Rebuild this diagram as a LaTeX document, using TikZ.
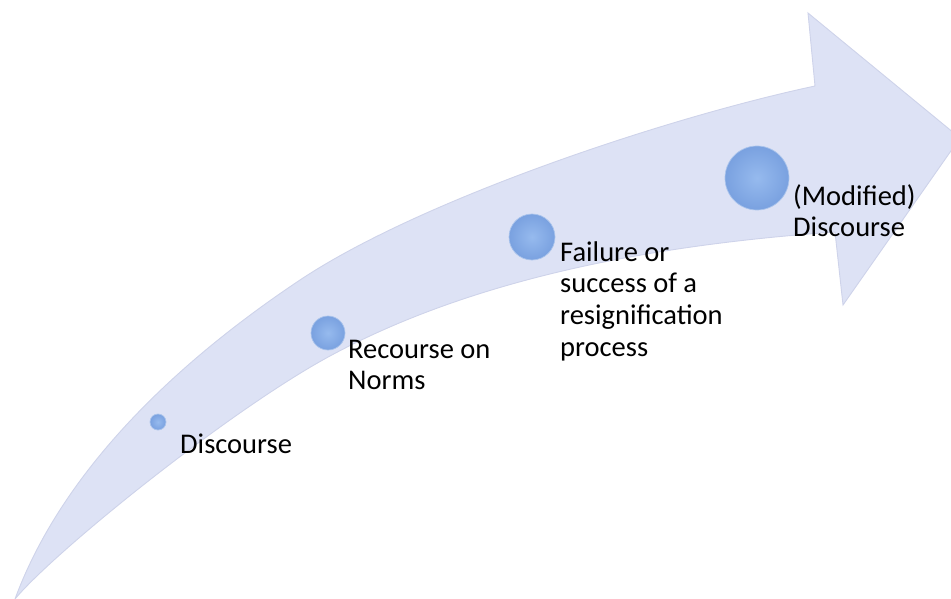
\documentclass[tikz,border=0pt]{standalone}
\usepackage{fontspec}
\setmainfont{Carlito}
\definecolor{arrowfill}{RGB}{221,226,245}
\definecolor{arrowedge}{RGB}{206,211,234}
\definecolor{ballin}{RGB}{150,186,238}
\definecolor{ballmid}{RGB}{118,158,222}
\definecolor{ballout}{RGB}{86,128,198}
\definecolor{ballrim}{RGB}{170,196,236}
\pgfdeclareradialshading{spherebl}{\pgfpoint{0bp}{0bp}}{%
  color(0bp)=(ballin); color(28bp)=(ballmid); color(44bp)=(ballout); color(48bp)=(ballrim); color(50bp)=(ballrim)}
\tikzset{
  ballnode/.style={circle, inner sep=0pt, shading=spherebl, draw=ballrim, line width=0.7pt},
  labelnode/.style={anchor=base west, inner sep=0pt, text=black,
    font=\fontsize{28.5}{31.7}\selectfont},
}
\newcommand{\lbltab}[1]{\begin{tabular}[t]{@{}l@{}}#1\end{tabular}}
\begin{document}
\begin{tikzpicture}[x=1pt,y=-1pt]
\useasboundingbox (0,0) rectangle (951,599);
\clip (0,0) rectangle (951,599);
% curved arrow
\coordinate (tail) at (15,599);
\coordinate (upmid) at (300,280);
\coordinate (notchup) at (815,86);
\coordinate (headtop) at (808,13);
\coordinate (tip) at (960,138);
\coordinate (headbot) at (843,305);
\coordinate (notchlo) at (835,232);
\coordinate (lomid) at (330,356);
\path[fill=arrowfill, draw=arrowedge, line width=0.9pt, line join=miter]
  (tail) .. controls (70,450) and (210,340) .. (upmid)
         .. controls (420,200) and (665,118) .. (notchup)
  -- (headtop) -- (tip) -- (headbot) -- (notchlo)
         .. controls (665,244) and (480,275) .. (lomid)
         .. controls (230,410) and (55,551) .. (tail)
  -- cycle;
% spheres
\node[ballnode, minimum size=16pt] (c1) at (158,422) {};
\node[ballnode, minimum size=34pt] (c2) at (328,333) {};
\node[ballnode, minimum size=46pt] (c3) at (532,237) {};
\node[ballnode, minimum size=64pt] (c4) at (757,178) {};
% labels
\node[labelnode] (l1) at (180,453) {\lbltab{Discourse}};
\node[labelnode] (l2) at (348,358) {\lbltab{Recourse on\\Norms}};
\node[labelnode] (l3) at (560,261) {\lbltab{Failure or\\success of a\\resignification\\process}};
\node[labelnode] (l4) at (793,205) {\lbltab{(Modified)\\Discourse}};
\end{tikzpicture}
\end{document}
